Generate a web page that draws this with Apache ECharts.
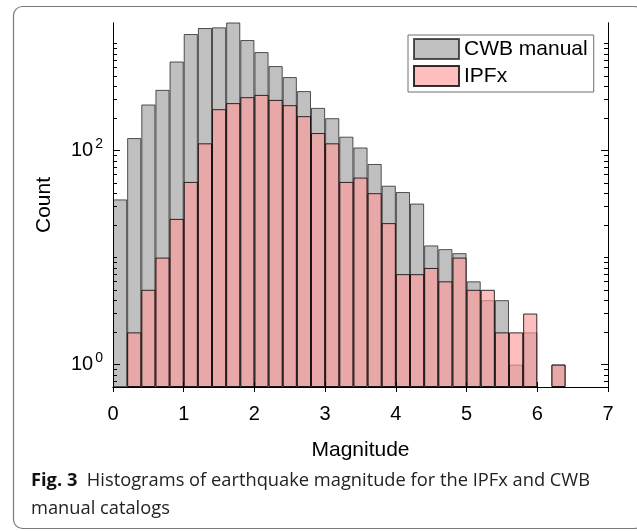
<!DOCTYPE html>
<html>
<head>
<meta charset="utf-8">
<script src="https://cdn.jsdelivr.net/npm/echarts@6/dist/echarts.min.js"></script>
<style>
  html, body { margin: 0; padding: 0; background: #fff; }
  #chart { width: 637px; height: 531px; }
</style>
</head>
<body>
<div id="chart"></div>
<script>
// histogram bins (left edges), width 0.2
const binStarts = [0, 0.2, 0.4, 0.6, 0.8, 1.0, 1.2, 1.4, 1.6, 1.8, 2.0, 2.2, 2.4, 2.6, 2.8, 3.0,
  3.2, 3.4, 3.6, 3.8, 4.0, 4.2, 4.4, 4.6, 4.8, 5.0, 5.2, 5.4, 5.6, 5.8, 6.0, 6.2];
const binWidth = 0.2;
const cwbCounts = [35, 131, 270, 370, 681, 1230, 1400, 1420, 1650, 1081, 834, 617, 487, 360, 251, 201,
  135, 107, 75, 47, 41, 32, 13, 12, 11, 6, 4, 4, 1, 2, 0, 1];
const ipfxCounts = [0, 2, 5, 10, 23, 51, 117, 244, 278, 316, 332, 298, 266, 210, 146, 117,
  51, 56, 40, 21, 7, 7, 8, 6, 10, 5, 5, 2, 2, 3, 0, 1];
const seriesNames = ['CWB manual', 'IPFx'];
const xRange = [0, 7];
const yRange = [0.617, 1560];
const majorPowers = [0, 2];

// log axis done by hand: bars start at the bottom of the y range
const logMin = Math.log10(yRange[0]);
const yTop = Math.log10(yRange[1]) - logMin;
const toY = c => Math.log10(c) - logMin;

const majorTicks = majorPowers.map(p => toY(Math.pow(10, p)));
const minorTicks = [];
for (let p = -1; p <= 3; p++) {
  for (let k = 1; k <= 9; k++) {
    const v = k * Math.pow(10, p);
    if (v < yRange[0] || v > yRange[1]) continue;
    if (k === 1 && majorPowers.includes(p)) continue;
    minorTicks.push(toY(v));
  }
}

const barData = counts => counts.map((c, i) => [binStarts[i] + binWidth / 2, c > 0 ? toY(c) : '-']);

const font = 'Liberation Sans';
const capFont = 'Open Sans';

const yAxisBase = (pos, ticks, len, labels) => ({
  type: 'value', position: pos, min: 0, max: yTop, z: 10,
  axisLine: { show: true, lineStyle: { color: '#000', width: 1 } },
  axisTick: { show: true, inside: true, length: len, customValues: ticks, lineStyle: { color: '#000' } },
  axisLabel: labels ? {
    show: true, customValues: majorTicks, margin: 10,
    formatter: v => '{b|10}{s|' + Math.round(v + logMin) + '}',
    rich: {
      b: { fontSize: 20, fontFamily: font, color: '#000' },
      s: { fontSize: 14, fontFamily: font, color: '#000', padding: [0, 0, 12, 2] }
    }
  } : { show: false },
  splitLine: { show: false }
});

const chart = echarts.init(document.getElementById('chart'));
chart.setOption({
  animation: false,
  backgroundColor: '#fff',
  grid: { left: 113, top: 23, right: 29, bottom: 144, containLabel: false },
  legend: {
    left: 408, top: 35, orient: 'vertical', icon: 'rect',
    padding: [3, 6, 5, 5], itemGap: 5, itemWidth: 45, itemHeight: 20,
    borderColor: '#707070', borderWidth: 1, backgroundColor: '#fff',
    textStyle: { fontSize: 21, fontFamily: font, color: '#000', lineHeight: 20 },
    data: seriesNames
  },
  xAxis: [
    {
      type: 'value', min: xRange[0], max: xRange[1], interval: 1, position: 'bottom', z: 10,
      axisLine: { lineStyle: { color: '#000', width: 1 } },
      axisTick: { inside: true, length: 5, lineStyle: { color: '#000' } },
      axisLabel: { fontSize: 20, fontFamily: font, color: '#000', margin: 17 },
      splitLine: { show: false },
      name: 'Magnitude', nameLocation: 'middle', nameGap: 53,
      nameTextStyle: { fontSize: 21, fontFamily: font, color: '#000' }
    },
    {
      type: 'value', min: xRange[0], max: xRange[1], interval: 1, position: 'top', z: 10,
      axisLine: { show: true, lineStyle: { color: '#000', width: 1 } },
      axisTick: { show: true, inside: true, length: 5, lineStyle: { color: '#000' } },
      axisLabel: { show: false },
      splitLine: { show: false }
    }
  ],
  yAxis: [
    Object.assign(yAxisBase('left', majorTicks, 7, true), {
      name: 'Count', nameLocation: 'middle', nameGap: 58,
      nameTextStyle: { fontSize: 21, fontFamily: font, color: '#000' }
    }),
    yAxisBase('left', minorTicks, 4, false),
    yAxisBase('right', majorTicks, 7, false),
    yAxisBase('right', minorTicks, 4, false)
  ],
  series: [
    {
      name: seriesNames[0], type: 'bar', xAxisIndex: 0, yAxisIndex: 0,
      barWidth: '100%', barGap: '-100%',
      itemStyle: { color: '#c0c0c0', borderColor: 'rgba(0,0,0,0.65)', borderWidth: 1 },
      data: barData(cwbCounts)
    },
    {
      name: seriesNames[1], type: 'bar', xAxisIndex: 0, yAxisIndex: 0,
      barWidth: '100%', barGap: '-100%',
      itemStyle: { color: 'rgba(255,155,155,0.65)', borderColor: 'rgba(0,0,0,0.8)', borderWidth: 1 },
      data: barData(ipfxCounts)
    }
  ],
  graphic: [
    {
      type: 'rect', silent: true,
      shape: { x: 13.5, y: 6.5, width: 630, height: 522, r: 9 },
      style: { fill: 'none', stroke: '#7a7a7a', lineWidth: 1.2 }
    },
    {
      type: 'text', silent: true,
      style: {
        x: 31, y: 481, verticalAlign: 'middle',
        text: '{b|Fig. 3}{r|  Histograms of earthquake magnitude for the IPFx and CWB}',
        rich: {
          b: { fontSize: 18.3, fontWeight: 'bold', fontFamily: capFont, fill: '#111' },
          r: { fontSize: 18.3, fontFamily: capFont, fill: '#222' }
        }
      }
    },
    {
      type: 'text', silent: true,
      style: {
        x: 31, y: 509, verticalAlign: 'middle',
        text: 'manual catalogs',
        fontSize: 18.3, fontFamily: capFont, fill: '#222'
      }
    }
  ]
});
</script>
</body>
</html>
